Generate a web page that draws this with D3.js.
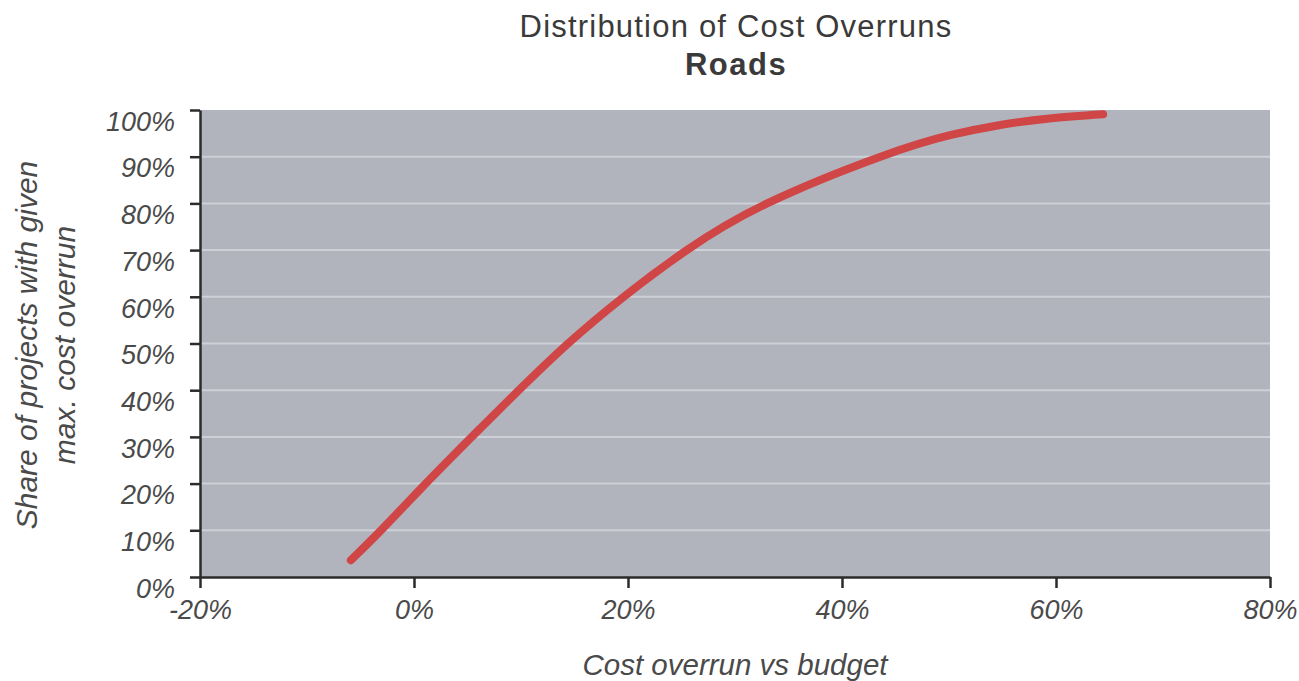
<!DOCTYPE html>
<html>
<head>
<meta charset="utf-8">
<script src="https://cdn.jsdelivr.net/npm/d3@7"></script>
<style>
  html, body { margin: 0; padding: 0; background: #ffffff; }
  svg { display: block; font-family: "Liberation Sans", Arial, Helvetica, sans-serif; }
</style>
</head>
<body>
<svg id="chart" width="1299" height="681"></svg>
<script>
// Cumulative share of road projects by maximum cost overrun (percent values)
const overrunPct = [-5.9, -3.0, 1.1, 5.4, 9.8, 14.4, 19.6, 25.5, 33.0, 43.6, 50.1, 54.8, 59.4, 64.4];
const sharePct   = [3.6, 10.2, 20, 30, 40, 50, 60, 70, 80, 90, 94.6, 96.8, 98.2, 99.1];

const xTickValues = [-20, 0, 20, 40, 60, 80];
const yTickValues = [0, 10, 20, 30, 40, 50, 60, 70, 80, 90, 100];

const titleText = "Distribution of Cost Overruns";
const subtitleText = "Roads";
const xAxisLabel = "Cost overrun vs budget";
const yAxisLabelLines = ["Share of projects with given", "max. cost overrun"];

const svg = d3.select("#chart");
const margin = { left: 200, top: 110, right: 29, bottom: 104 };
const W = 1299, H = 681;
const innerW = W - margin.left - margin.right;
const innerH = H - margin.top - margin.bottom;

const x = d3.scaleLinear().domain([-20, 80]).range([margin.left, margin.left + innerW]);
const y = d3.scaleLinear().domain([0, 100]).range([margin.top + innerH, margin.top]);

// plot background
svg.append("rect")
  .attr("x", margin.left).attr("y", margin.top)
  .attr("width", innerW).attr("height", innerH)
  .attr("fill", "#b1b4bd");

// horizontal gridlines
svg.append("g")
  .selectAll("line")
  .data(yTickValues.filter(v => v > 0 && v < 100))
  .join("line")
  .attr("x1", margin.left).attr("x2", margin.left + innerW)
  .attr("y1", d => y(d)).attr("y2", d => y(d))
  .attr("stroke", "#cdd0d6").attr("stroke-width", 2);

// y axis
const yAxis = svg.append("g")
  .attr("transform", `translate(${margin.left},0)`)
  .call(d3.axisLeft(y).tickValues(yTickValues).tickFormat(d => d + "%")
    .tickSize(10).tickSizeOuter(0).tickPadding(15));
yAxis.select(".domain").attr("stroke", "#2b2b2b").attr("stroke-width", 2.5);
yAxis.selectAll(".tick line").attr("stroke", "#2b2b2b").attr("stroke-width", 2.5);
yAxis.selectAll(".tick text")
  .attr("fill", "#4a4a4a")
  .attr("font-size", 27)
  .attr("font-style", "italic")
  .attr("dy", "0.75em");

// x axis
const xAxis = svg.append("g")
  .attr("transform", `translate(0,${margin.top + innerH})`)
  .call(d3.axisBottom(x).tickValues(xTickValues).tickFormat(d => d + "%")
    .tickSize(11).tickSizeOuter(0).tickPadding(12));
xAxis.select(".domain").attr("stroke", "#2b2b2b").attr("stroke-width", 2.5);
xAxis.selectAll(".tick line").attr("stroke", "#2b2b2b").attr("stroke-width", 2.5);
xAxis.selectAll(".tick text")
  .attr("fill", "#4a4a4a")
  .attr("font-size", 27)
  .attr("font-style", "italic");

// distribution curve
const pts = overrunPct.map((v, i) => [v, sharePct[i]]);
const line = d3.line()
  .x(d => x(d[0])).y(d => y(d[1]))
  .curve(d3.curveNatural);
svg.append("path")
  .datum(pts)
  .attr("d", line)
  .attr("fill", "none")
  .attr("stroke", "#d04545")
  .attr("stroke-width", 8)
  .attr("stroke-linecap", "round")
  .attr("stroke-linejoin", "round");

// titles
svg.append("text")
  .attr("x", 736).attr("y", 37)
  .attr("text-anchor", "middle")
  .attr("font-size", 31)
  .attr("letter-spacing", 1.2)
  .attr("fill", "#3a3a3a")
  .text(titleText);
svg.append("text")
  .attr("x", 736).attr("y", 75)
  .attr("text-anchor", "middle")
  .attr("font-size", 31)
  .attr("letter-spacing", 1.5)
  .attr("font-weight", "bold")
  .attr("fill", "#3a3a3a")
  .text(subtitleText);

// axis titles
svg.append("text")
  .attr("x", 735).attr("y", 675)
  .attr("text-anchor", "middle")
  .attr("font-size", 29.5)
  .attr("font-style", "italic")
  .attr("fill", "#4a4a4a")
  .text(xAxisLabel);

const yLab = svg.append("text")
  .attr("transform", "translate(37,345) rotate(-90)")
  .attr("text-anchor", "middle")
  .attr("font-size", 30)
  .attr("font-style", "italic")
  .attr("fill", "#4a4a4a");
yLab.selectAll("tspan")
  .data(yAxisLabelLines)
  .join("tspan")
  .attr("x", 0)
  .attr("dy", (d, i) => i === 0 ? 0 : 38)
  .text(d => d);
</script>
</body>
</html>
